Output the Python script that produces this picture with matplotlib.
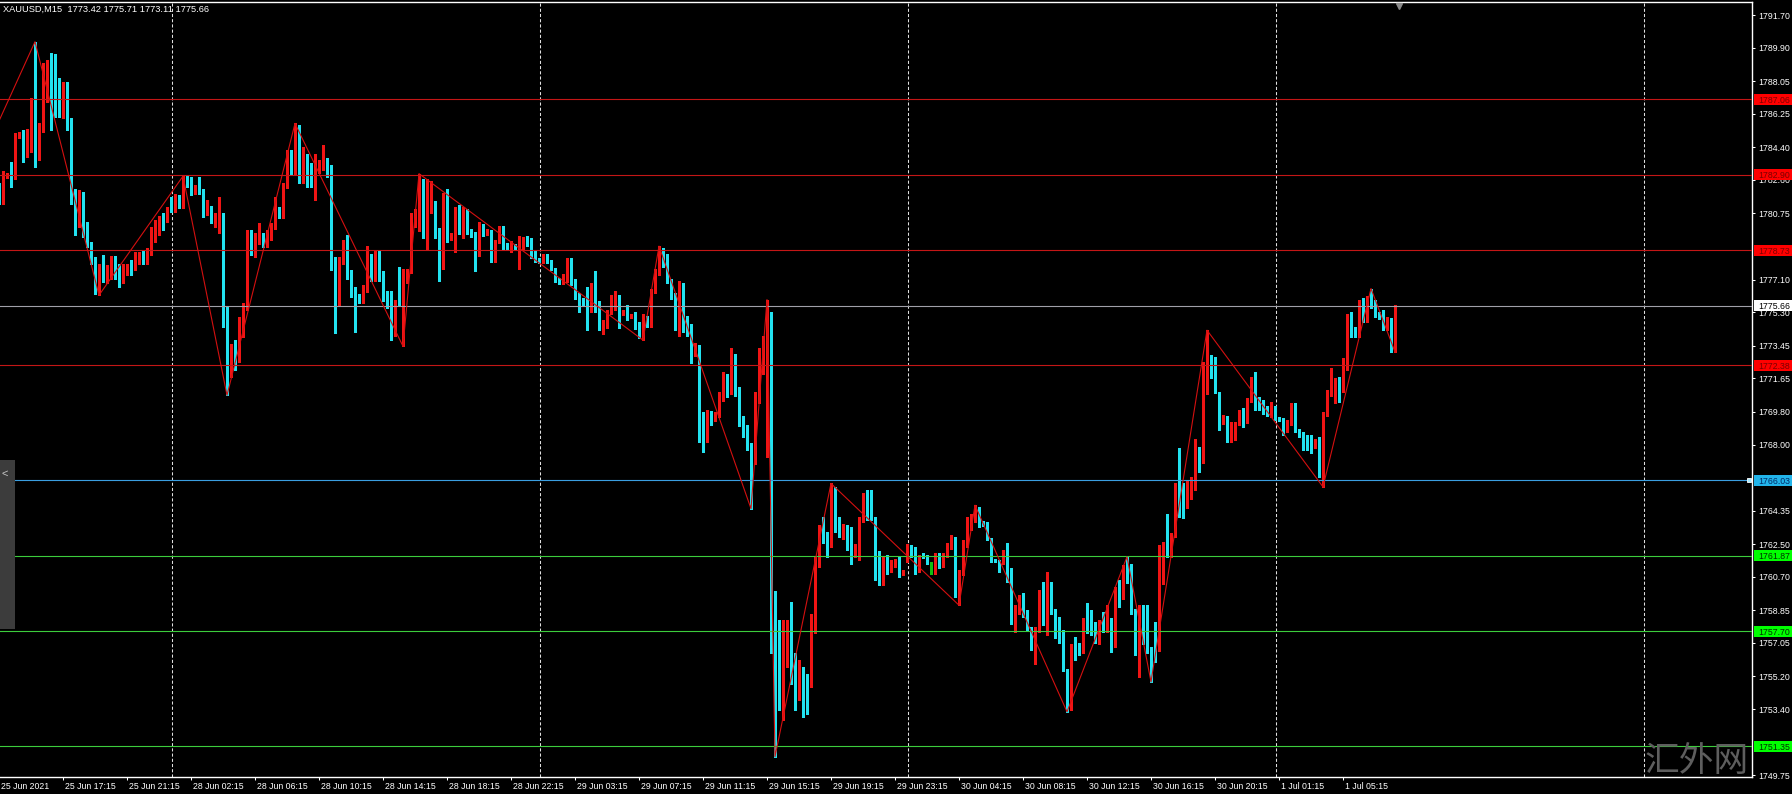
import matplotlib
matplotlib.use("Agg")
import matplotlib.pyplot as plt
import matplotlib.transforms as mtransforms
from matplotlib.patches import Rectangle
import numpy as np

plt.rcParams['font.family'] = ['Liberation Sans', 'DejaVu Sans']

TITLE = "XAUUSD,M15  1773.42 1775.71 1773.11 1775.66"

# M15 candles, one entry per bar (bar 0 = 25 Jun 13:30)
opens = [
    1782.26, 1781.85, 1782.77, 1783.05, 1782.77, 1784.98, 1785.17, 1785.06, 1785.20, 1785.35,
    1784.89, 1785.35, 1788.48, 1789.12, 1788.66, 1788.20, 1786.64, 1787.93, 1785.90, 1782.04,
    1780.93, 1781.76, 1779.83, 1779.09, 1778.17, 1776.52, 1777.90, 1777.07, 1777.25, 1778.36,
    1777.44, 1777.16, 1777.71, 1777.90, 1777.71, 1778.27, 1778.36, 1778.08, 1778.63, 1779.37,
    1780.01, 1780.57, 1780.38, 1781.30, 1780.93, 1781.67, 1781.12, 1782.77, 1782.59, 1781.85,
    1782.22, 1782.04, 1780.75, 1781.12, 1780.29, 1780.20, 1780.66, 1775.05, 1772.10, 1773.48,
    1772.65, 1774.13, 1775.78, 1779.28, 1778.54, 1779.28, 1779.65, 1779.09, 1779.46, 1780.01,
    1781.03, 1780.75, 1782.22, 1783.79, 1782.96, 1785.63, 1782.50, 1783.97, 1782.87, 1782.50,
    1783.14, 1783.24, 1783.60, 1783.42, 1778.17, 1775.78, 1778.17, 1779.19, 1777.25, 1776.33,
    1776.24, 1775.97, 1776.47, 1778.27, 1777.14, 1778.16, 1777.37, 1776.02, 1775.90, 1774.66,
    1775.90, 1775.80, 1777.03, 1777.60, 1780.19, 1780.64, 1780.98, 1780.19, 1780.87, 1781.43,
    1779.51, 1777.82, 1781.55, 1779.40, 1779.63, 1780.98, 1779.63, 1780.53, 1779.85, 1779.51,
    1778.39, 1780.08, 1779.63, 1779.85, 1778.16, 1779.18, 1779.85, 1779.06, 1778.84, 1779.00,
    1778.84, 1778.84, 1779.40, 1779.18, 1778.50, 1778.27, 1778.09, 1778.43, 1778.16, 1777.71,
    1777.14, 1776.92, 1777.03, 1778.16, 1777.03, 1776.13, 1776.02, 1775.79, 1775.45, 1776.58,
    1775.56, 1774.44, 1774.55, 1775.34, 1775.56, 1775.79, 1775.23, 1775.45, 1775.05, 1775.23,
    1774.55, 1773.98, 1775.00, 1774.55, 1776.47, 1777.48, 1778.61, 1778.39, 1777.03, 1776.24,
    1774.66, 1776.35, 1774.55, 1774.55, 1773.31, 1773.42, 1769.71, 1768.70, 1769.71, 1769.44,
    1769.62, 1770.60, 1771.60, 1770.90, 1772.90, 1771.00, 1769.55, 1768.96, 1768.00, 1767.05,
    1770.60, 1772.40, 1773.20, 1775.20, 1759.50, 1757.94, 1754.81, 1755.73, 1757.75, 1755.73,
    1754.44, 1755.55, 1754.81, 1754.72, 1758.49, 1761.43, 1763.00, 1762.72, 1762.45, 1765.11,
    1763.27, 1763.09, 1763.18, 1762.17, 1761.99, 1761.99, 1763.83, 1765.11, 1765.21, 1763.92,
    1762.08, 1760.33, 1761.71, 1761.07, 1761.34, 1761.62, 1760.88, 1761.62, 1762.35, 1762.35,
    1761.07, 1761.89, 1761.84, 1761.43, 1761.34, 1761.53, 1761.34, 1761.89, 1762.45, 1762.45,
    1759.78, 1760.88, 1762.54, 1763.46, 1763.83, 1764.38, 1763.73, 1763.64, 1762.72, 1761.66,
    1761.53, 1761.62, 1762.08, 1761.07, 1758.21, 1758.95, 1759.69, 1758.67, 1757.85, 1756.74,
    1757.75, 1759.69, 1757.57, 1760.05, 1758.86, 1757.75, 1757.29, 1755.55, 1753.43, 1756.83,
    1756.74, 1756.56, 1758.31, 1758.00, 1757.94, 1757.11, 1758.21, 1757.75, 1758.31, 1756.83,
    1759.78, 1759.59, 1760.97, 1760.61, 1758.77, 1756.47, 1757.39, 1757.20, 1756.65, 1758.12,
    1757.02, 1760.42, 1762.54, 1761.89, 1763.00, 1765.76, 1765.48, 1764.56, 1765.11, 1765.57,
    1767.78, 1767.14, 1771.00, 1772.29, 1771.92, 1770.82, 1769.25, 1769.53, 1768.24, 1768.70,
    1769.16, 1769.35, 1769.25, 1770.45, 1771.65, 1770.54, 1770.36, 1769.99, 1769.71, 1770.00,
    1769.44, 1769.35, 1768.79, 1769.25, 1770.08, 1768.79, 1768.61, 1768.24, 1768.33, 1767.87,
    1768.33, 1766.31, 1769.71, 1770.82, 1770.82, 1771.46, 1771.10, 1772.20, 1775.14, 1774.40,
    1774.04, 1775.97, 1774.87, 1775.97, 1775.80, 1775.20, 1775.14, 1774.50, 1774.87, 1773.42,
]
highs = [
    1782.41, 1783.10, 1783.00, 1783.60, 1785.17, 1785.25, 1785.35, 1785.44, 1787.10, 1790.23,
    1785.72, 1789.03, 1789.21, 1789.62, 1789.58, 1788.25, 1788.02, 1788.02, 1786.00, 1782.10,
    1782.04, 1781.95, 1780.29, 1779.20, 1778.36, 1777.99, 1778.45, 1777.90, 1778.40, 1778.40,
    1777.99, 1777.99, 1777.99, 1778.17, 1778.63, 1778.63, 1778.73, 1778.82, 1780.01, 1780.38,
    1780.60, 1780.75, 1781.12, 1781.67, 1781.85, 1781.76, 1782.81, 1782.81, 1782.77, 1782.31,
    1782.77, 1782.10, 1781.49, 1781.15, 1780.75, 1781.67, 1780.75, 1775.60, 1773.57, 1773.76,
    1775.05, 1775.80, 1779.83, 1779.83, 1779.65, 1780.20, 1779.70, 1779.83, 1780.20, 1781.67,
    1781.10, 1782.41, 1784.25, 1784.25, 1785.72, 1785.63, 1784.43, 1784.06, 1783.51, 1784.06,
    1783.70, 1784.52, 1783.79, 1783.45, 1778.36, 1778.36, 1779.28, 1779.55, 1777.62, 1776.70,
    1776.30, 1776.81, 1778.95, 1778.50, 1778.72, 1778.72, 1777.60, 1776.47, 1776.47, 1775.95,
    1777.82, 1777.71, 1777.70, 1780.76, 1781.00, 1782.95, 1782.67, 1782.67, 1782.56, 1781.45,
    1779.97, 1781.88, 1782.11, 1779.70, 1781.09, 1781.21, 1781.09, 1780.98, 1779.90, 1779.74,
    1780.30, 1780.19, 1779.90, 1779.85, 1779.29, 1780.08, 1780.08, 1779.10, 1779.25, 1779.05,
    1779.51, 1779.45, 1779.51, 1779.40, 1778.72, 1778.30, 1778.50, 1778.50, 1778.20, 1777.75,
    1777.20, 1777.40, 1778.27, 1778.27, 1777.14, 1776.35, 1776.10, 1776.69, 1776.92, 1777.60,
    1775.90, 1774.89, 1775.45, 1776.24, 1776.47, 1776.24, 1775.40, 1775.68, 1775.20, 1775.30,
    1774.78, 1775.23, 1775.10, 1776.58, 1777.71, 1778.95, 1778.84, 1778.50, 1777.14, 1776.35,
    1777.03, 1776.92, 1775.11, 1774.66, 1773.60, 1773.50, 1769.80, 1769.90, 1769.85, 1769.80,
    1770.90, 1772.00, 1771.90, 1773.30, 1773.00, 1771.20, 1769.60, 1769.10, 1768.10, 1770.90,
    1773.30, 1774.00, 1776.00, 1775.30, 1759.90, 1758.30, 1758.30, 1758.30, 1759.32, 1756.47,
    1756.10, 1755.73, 1755.36, 1758.67, 1761.80, 1763.55, 1764.01, 1763.18, 1765.85, 1765.67,
    1764.01, 1763.60, 1763.55, 1763.46, 1762.50, 1764.01, 1765.30, 1765.48, 1765.48, 1764.01,
    1762.10, 1761.80, 1761.89, 1761.62, 1761.70, 1761.80, 1761.10, 1762.50, 1762.45, 1762.35,
    1761.89, 1761.99, 1761.90, 1761.53, 1761.99, 1761.99, 1761.99, 1762.54, 1763.00, 1762.90,
    1761.07, 1762.72, 1764.01, 1764.19, 1764.65, 1764.56, 1763.80, 1763.73, 1762.82, 1761.70,
    1761.62, 1762.17, 1762.54, 1761.16, 1759.13, 1759.69, 1759.78, 1758.86, 1757.94, 1757.94,
    1759.96, 1760.42, 1760.97, 1760.42, 1758.90, 1758.49, 1757.75, 1755.60, 1757.00, 1757.39,
    1757.02, 1758.40, 1759.23, 1758.86, 1758.21, 1758.31, 1758.77, 1759.13, 1758.40, 1760.15,
    1760.51, 1761.34, 1761.80, 1761.43, 1758.90, 1759.13, 1759.13, 1759.13, 1756.80, 1758.20,
    1762.45, 1762.60, 1764.19, 1763.09, 1765.85, 1767.78, 1765.85, 1766.03, 1766.21, 1768.33,
    1767.87, 1772.57, 1774.31, 1772.93, 1772.84, 1770.90, 1769.62, 1769.60, 1769.25, 1769.25,
    1769.90, 1769.99, 1770.54, 1771.74, 1772.01, 1770.60, 1770.45, 1770.10, 1770.36, 1770.10,
    1769.50, 1769.44, 1769.35, 1770.27, 1770.27, 1768.85, 1768.70, 1768.50, 1768.50, 1768.30,
    1768.43, 1769.80, 1771.00, 1772.20, 1771.65, 1771.74, 1772.80, 1775.23, 1775.33, 1774.50,
    1775.97, 1776.06, 1776.20, 1776.61, 1775.97, 1775.30, 1775.40, 1775.05, 1774.96, 1775.71,
]
lows = [
    1781.30, 1781.30, 1782.70, 1782.22, 1782.68, 1784.90, 1783.60, 1783.88, 1784.15, 1783.33,
    1783.70, 1785.26, 1786.91, 1785.35, 1786.09, 1786.09, 1786.00, 1785.35, 1781.30, 1779.55,
    1780.01, 1779.46, 1778.91, 1777.99, 1776.33, 1776.24, 1776.98, 1776.89, 1777.16, 1777.16,
    1776.70, 1776.89, 1777.35, 1777.35, 1777.62, 1777.99, 1777.99, 1777.99, 1778.45, 1779.19,
    1779.55, 1779.83, 1780.29, 1780.84, 1780.84, 1781.03, 1781.03, 1782.22, 1781.76, 1781.80,
    1781.85, 1780.57, 1780.66, 1780.20, 1780.01, 1779.65, 1774.50, 1770.72, 1771.74, 1772.10,
    1772.56, 1773.94, 1775.41, 1778.45, 1778.36, 1779.09, 1778.91, 1778.91, 1779.28, 1779.92,
    1780.48, 1780.48, 1782.13, 1782.87, 1782.90, 1782.41, 1782.41, 1782.22, 1782.22, 1781.49,
    1782.96, 1783.14, 1782.77, 1777.62, 1774.13, 1775.69, 1777.99, 1777.16, 1776.15, 1774.22,
    1775.79, 1775.79, 1776.40, 1777.03, 1777.00, 1777.03, 1775.90, 1775.56, 1773.76, 1773.98,
    1775.70, 1773.42, 1776.90, 1777.48, 1780.00, 1779.80, 1779.40, 1778.72, 1780.76, 1779.40,
    1777.03, 1777.71, 1779.18, 1779.30, 1778.61, 1779.63, 1779.40, 1779.63, 1779.45, 1777.60,
    1778.39, 1779.51, 1779.55, 1778.05, 1778.05, 1779.10, 1778.72, 1778.75, 1778.61, 1778.80,
    1777.71, 1778.80, 1778.95, 1778.27, 1778.05, 1778.00, 1778.00, 1778.00, 1777.65, 1776.98,
    1776.85, 1776.85, 1776.98, 1776.81, 1776.02, 1775.34, 1775.70, 1774.32, 1775.34, 1775.34,
    1774.32, 1774.10, 1774.44, 1775.23, 1775.45, 1774.44, 1775.15, 1774.89, 1775.00, 1774.40,
    1773.87, 1773.76, 1774.50, 1774.50, 1776.35, 1777.37, 1777.82, 1776.92, 1776.02, 1774.32,
    1773.98, 1774.21, 1773.98, 1772.52, 1772.90, 1768.15, 1767.60, 1768.15, 1769.07, 1769.30,
    1769.50, 1770.40, 1770.60, 1770.80, 1770.70, 1769.00, 1768.40, 1767.70, 1764.46, 1766.90,
    1770.30, 1771.90, 1767.30, 1756.50, 1750.77, 1753.34, 1752.79, 1755.70, 1754.81, 1753.34,
    1753.89, 1752.97, 1753.15, 1754.63, 1757.57, 1761.25, 1762.54, 1761.80, 1762.35, 1763.18,
    1762.90, 1762.80, 1762.17, 1761.43, 1761.80, 1761.62, 1763.74, 1763.83, 1763.83, 1760.51,
    1760.24, 1760.24, 1760.88, 1760.97, 1761.25, 1760.70, 1760.80, 1761.50, 1761.80, 1760.88,
    1760.97, 1761.71, 1761.40, 1760.88, 1760.88, 1761.16, 1761.25, 1761.80, 1762.26, 1759.59,
    1759.13, 1760.80, 1762.35, 1763.27, 1763.74, 1763.46, 1763.50, 1762.72, 1761.53, 1761.50,
    1760.97, 1761.43, 1760.42, 1758.12, 1757.66, 1758.67, 1758.49, 1757.75, 1756.65, 1755.91,
    1757.66, 1758.03, 1757.50, 1758.67, 1757.30, 1757.02, 1755.50, 1753.25, 1753.34, 1756.10,
    1756.37, 1756.47, 1757.57, 1757.50, 1757.02, 1757.00, 1757.66, 1757.66, 1756.56, 1756.80,
    1759.04, 1759.50, 1760.33, 1758.67, 1756.37, 1755.18, 1757.00, 1756.47, 1754.90, 1756.00,
    1756.60, 1760.30, 1761.80, 1761.80, 1762.90, 1764.01, 1763.92, 1764.50, 1765.00, 1765.48,
    1766.49, 1767.00, 1770.80, 1771.65, 1770.82, 1768.79, 1769.15, 1768.15, 1768.15, 1768.24,
    1769.06, 1768.98, 1769.16, 1770.36, 1769.90, 1769.90, 1769.71, 1769.60, 1769.53, 1769.35,
    1769.30, 1768.52, 1768.70, 1769.10, 1768.70, 1768.40, 1767.69, 1767.69, 1767.51, 1767.80,
    1766.21, 1765.66, 1769.60, 1770.70, 1770.27, 1770.36, 1770.90, 1772.10, 1773.95, 1773.95,
    1773.95, 1774.78, 1774.78, 1775.51, 1775.05, 1774.90, 1774.31, 1774.31, 1773.12, 1773.11,
]
closes = [
    1781.67, 1783.05, 1782.96, 1782.77, 1784.98, 1785.17, 1785.06, 1785.35, 1785.39, 1784.89,
    1785.35, 1788.48, 1789.12, 1788.66, 1788.20, 1786.64, 1787.93, 1785.90, 1782.04, 1780.93,
    1781.76, 1779.83, 1779.09, 1778.17, 1776.52, 1777.90, 1777.07, 1777.44, 1778.36, 1777.44,
    1777.16, 1777.71, 1777.90, 1777.71, 1778.27, 1778.36, 1778.08, 1778.63, 1779.37, 1780.01,
    1780.57, 1780.38, 1781.03, 1780.93, 1781.58, 1781.12, 1782.77, 1782.59, 1781.85, 1782.22,
    1782.04, 1780.75, 1781.12, 1780.29, 1780.57, 1780.66, 1775.05, 1771.92, 1773.48, 1772.65,
    1774.13, 1775.78, 1779.28, 1778.54, 1779.37, 1779.65, 1779.09, 1779.46, 1780.01, 1780.93,
    1780.75, 1782.22, 1783.79, 1782.96, 1785.63, 1782.50, 1783.51, 1782.41, 1782.50, 1783.33,
    1783.33, 1783.60, 1783.42, 1778.17, 1775.78, 1778.17, 1779.19, 1777.25, 1776.33, 1776.24,
    1775.97, 1776.47, 1778.27, 1777.14, 1778.16, 1777.37, 1776.02, 1775.90, 1774.66, 1775.90,
    1775.80, 1777.03, 1777.60, 1780.19, 1780.64, 1781.00, 1780.19, 1780.87, 1781.43, 1779.51,
    1777.82, 1781.66, 1779.40, 1779.63, 1780.98, 1779.74, 1780.53, 1779.74, 1779.51, 1778.39,
    1780.19, 1779.63, 1779.85, 1778.16, 1779.18, 1779.85, 1778.95, 1778.84, 1779.18, 1778.84,
    1779.40, 1779.40, 1779.18, 1778.39, 1778.16, 1778.05, 1778.43, 1778.05, 1777.71, 1777.03,
    1776.92, 1777.37, 1778.16, 1776.92, 1776.13, 1775.90, 1775.79, 1775.45, 1776.58, 1775.45,
    1774.44, 1774.55, 1775.34, 1775.68, 1775.90, 1775.11, 1775.34, 1775.11, 1775.16, 1774.44,
    1773.98, 1775.11, 1774.55, 1776.47, 1777.60, 1778.27, 1778.05, 1777.14, 1776.13, 1774.66,
    1776.35, 1774.55, 1774.10, 1773.31, 1773.42, 1769.71, 1768.70, 1769.71, 1769.44, 1769.62,
    1770.60, 1771.60, 1770.90, 1772.90, 1771.00, 1769.55, 1768.96, 1768.00, 1767.05, 1770.60,
    1772.40, 1773.20, 1775.20, 1759.50, 1754.81, 1754.81, 1757.75, 1757.75, 1756.47, 1754.90,
    1755.73, 1753.71, 1753.71, 1758.49, 1761.62, 1763.09, 1762.72, 1762.45, 1765.11, 1763.27,
    1763.09, 1763.30, 1762.17, 1761.99, 1762.20, 1763.83, 1765.21, 1764.01, 1763.92, 1762.08,
    1760.33, 1761.62, 1761.07, 1761.43, 1761.62, 1760.88, 1761.07, 1762.35, 1762.17, 1760.97,
    1761.71, 1761.71, 1761.43, 1761.43, 1761.53, 1761.34, 1761.89, 1762.45, 1762.63, 1759.87,
    1760.88, 1762.54, 1763.46, 1763.92, 1764.56, 1763.64, 1763.55, 1763.27, 1761.62, 1761.53,
    1761.07, 1762.08, 1761.07, 1758.21, 1759.04, 1759.59, 1758.67, 1757.85, 1756.74, 1757.75,
    1759.69, 1758.12, 1760.05, 1758.86, 1757.39, 1757.29, 1755.55, 1753.34, 1756.93, 1756.56,
    1756.47, 1758.31, 1757.94, 1757.75, 1757.11, 1758.12, 1757.75, 1758.31, 1756.83, 1759.78,
    1759.59, 1760.88, 1760.61, 1758.77, 1756.47, 1757.39, 1757.11, 1756.65, 1755.40, 1757.02,
    1760.42, 1762.54, 1761.89, 1763.00, 1765.57, 1765.39, 1764.65, 1765.48, 1766.03, 1767.69,
    1767.14, 1771.00, 1772.38, 1771.92, 1770.91, 1769.25, 1769.53, 1768.24, 1768.70, 1769.16,
    1769.35, 1769.16, 1770.45, 1771.65, 1770.36, 1770.08, 1769.90, 1769.71, 1770.27, 1769.44,
    1769.35, 1768.79, 1769.25, 1769.53, 1768.79, 1768.52, 1768.15, 1768.06, 1767.87, 1768.24,
    1766.31, 1769.71, 1770.82, 1770.91, 1771.46, 1771.00, 1772.75, 1775.14, 1774.31, 1774.04,
    1775.14, 1774.87, 1776.15, 1775.60, 1775.14, 1775.05, 1774.41, 1774.87, 1773.39, 1775.66,
]

# ZigZag pivots (bar index, price)
zigzag_bars = [-10, 9, 25, 46, 57, 74, 101, 105, 161, 165, 188, 192, 194, 208,
               240, 244, 267, 282, 288, 302, 331, 343, 349]
zigzag_prices = [1781.00, 1790.23, 1776.24, 1782.81, 1770.72, 1785.72, 1773.42, 1782.95,
                 1773.76, 1778.95, 1764.46, 1776.00, 1750.77, 1765.85, 1759.13, 1764.65,
                 1753.25, 1761.80, 1754.90, 1774.31, 1765.66, 1776.61, 1773.11]

# horizontal levels
red_levels = [1787.06, 1782.90, 1778.73, 1772.38]
green_levels = [1761.87, 1757.70, 1751.35]
blue_level = 1766.03
last_price = 1775.66

y_ticks = [1791.70, 1789.90, 1788.05, 1786.25, 1784.40, 1782.60, 1780.75, 1777.10,
           1775.30, 1773.45, 1771.65, 1769.80, 1768.00, 1764.35, 1762.50, 1760.70,
           1758.85, 1757.05, 1755.20, 1753.40, 1749.75]

x_tick_bars = list(range(0, 337, 16))
x_tick_labels = ["25 Jun 2021", "25 Jun 17:15", "25 Jun 21:15", "28 Jun 02:15",
                 "28 Jun 06:15", "28 Jun 10:15", "28 Jun 14:15", "28 Jun 18:15",
                 "28 Jun 22:15", "29 Jun 03:15", "29 Jun 07:15", "29 Jun 11:15",
                 "29 Jun 15:15", "29 Jun 19:15", "29 Jun 23:15", "30 Jun 04:15",
                 "30 Jun 08:15", "30 Jun 12:15", "30 Jun 16:15", "30 Jun 20:15",
                 "1 Jul 01:15", "1 Jul 05:15"]

UP = '#f01414'
DOWN = '#22e2f0'
DOJI = '#10c010'
FS = 6.3


def main():
    W, H = 1792, 794
    fig = plt.figure(figsize=(W / 100, H / 100), dpi=100, facecolor='black')
    ax = fig.add_axes([0, 17 / H, 1752 / W, (H - 18.5) / H])
    ax.set_facecolor('black')

    # dashed vertical grid (every 92 bars)
    for gx in [43.25, 135.25, 227.25, 319.25, 411.25]:
        ax.axvline(gx, color='#e0e0e0', lw=0.75, ls=(0, (3, 2)), zorder=1)

    # candles
    o = np.array(opens)
    c = np.array(closes)
    idx = np.arange(len(c))
    colors = np.where(c > o, UP, np.where(c < o, DOWN, DOJI))
    ax.vlines(idx, lows, highs, colors=colors, linewidth=0.75, antialiased=False, zorder=3)
    ax.bar(idx, np.maximum(np.abs(c - o), 0.055), bottom=np.minimum(o, c), width=0.75,
           color=colors, linewidth=0, antialiased=False, zorder=4)

    # levels
    for lv in red_levels:
        ax.axhline(lv, color='#c41616', lw=0.8, zorder=5)
    for lv in green_levels:
        ax.axhline(lv, color='#3ccc3c', lw=0.8, zorder=5)
    ax.axhline(blue_level, color='#3a9ee0', lw=0.8, zorder=5)
    ax.axhline(last_price, color='#a0a0a8', lw=0.8, zorder=5)
    ax.plot([437.5], [blue_level], marker='s', ms=2.6, mfc='#a8eaff', mec='white',
            mew=0.6, zorder=6, clip_on=False)

    # zigzag
    ax.plot(zigzag_bars, zigzag_prices, color='#d41010', lw=0.8, zorder=6)

    ax.set_xlim(0.25, 438.25)
    ax.set_ylim(1749.65, 1792.45)

    for side in ['right', 'bottom', 'top']:
        ax.spines[side].set_color('white')
        ax.spines[side].set_linewidth(1.0)
    ax.spines['left'].set_visible(False)

    ax.yaxis.tick_right()
    ax.set_yticks(y_ticks)
    ax.set_yticklabels([f"{v:.2f}" for v in y_ticks])
    ax.tick_params(axis='y', colors='white', length=2.2, width=0.75, pad=2.2, labelsize=FS)

    ax.set_xticks(x_tick_bars)
    ax.set_xticklabels([])
    ax.tick_params(axis='x', colors='white', length=2.5, width=0.75)
    for xb, lab in zip(x_tick_bars, x_tick_labels):
        ax.annotate(lab, xy=(xb, 0), xycoords=('data', 'axes fraction'), xytext=(1.4, -6.6),
                    textcoords='offset points', ha='left', va='center', color='white',
                    fontsize=FS, annotation_clip=False)

    # price labels on the right scale
    trans = mtransforms.blended_transform_factory(fig.transFigure, ax.transData)
    box_h = 11 / 18.12

    def price_box(price, face, tcolor):
        ax.add_patch(Rectangle((1754 / W, price - box_h / 2), (W - 1754) / W, box_h,
                               transform=trans, facecolor=face, edgecolor='none',
                               clip_on=False, zorder=10))
        ax.annotate(f"{price:.2f}", xy=(1, price), xycoords=('axes fraction', 'data'),
                    xytext=(4.3, 0), textcoords='offset points', ha='left',
                    va='center_baseline', color=tcolor, fontsize=FS, zorder=11,
                    annotation_clip=False)

    for lv in red_levels:
        price_box(lv, '#ff0000', '#7a0000')
    for lv in green_levels:
        price_box(lv, '#00ff00', '#003000')
    price_box(blue_level, '#22b4ea', '#002a66')
    price_box(last_price, '#ffffff', '#000000')

    ax.set_xlim(0.25, 438.25)
    ax.set_ylim(1749.65, 1792.45)

    # chart shift marker
    ax.plot([350], [1792.18], marker='v', ms=4.5, color='#8a8a8a', clip_on=False, zorder=7)

    # left collapsed panel
    fig.add_artist(Rectangle((0, (H - 629) / H), 15 / W, 169 / H, transform=fig.transFigure,
                             facecolor='#3c3c3c', edgecolor='none'))
    fig.text(1 / W, (H - 474) / H, '<', color='#c8c8c8', fontsize=8, ha='left', va='center')

    fig.text(3 / W, (H - 9.5) / H, TITLE, color='white', fontsize=6.7, ha='left', va='center')

    # watermark
    fig.text(1697 / W, (H - 762) / H, '汇外网', fontsize=25, color='#5e5e5e',
             family=['Noto Sans CJK SC'], weight='light', ha='center', va='center')

    fig.savefig('out.png', dpi=100, facecolor='black')


if __name__ == "__main__":
    main()
